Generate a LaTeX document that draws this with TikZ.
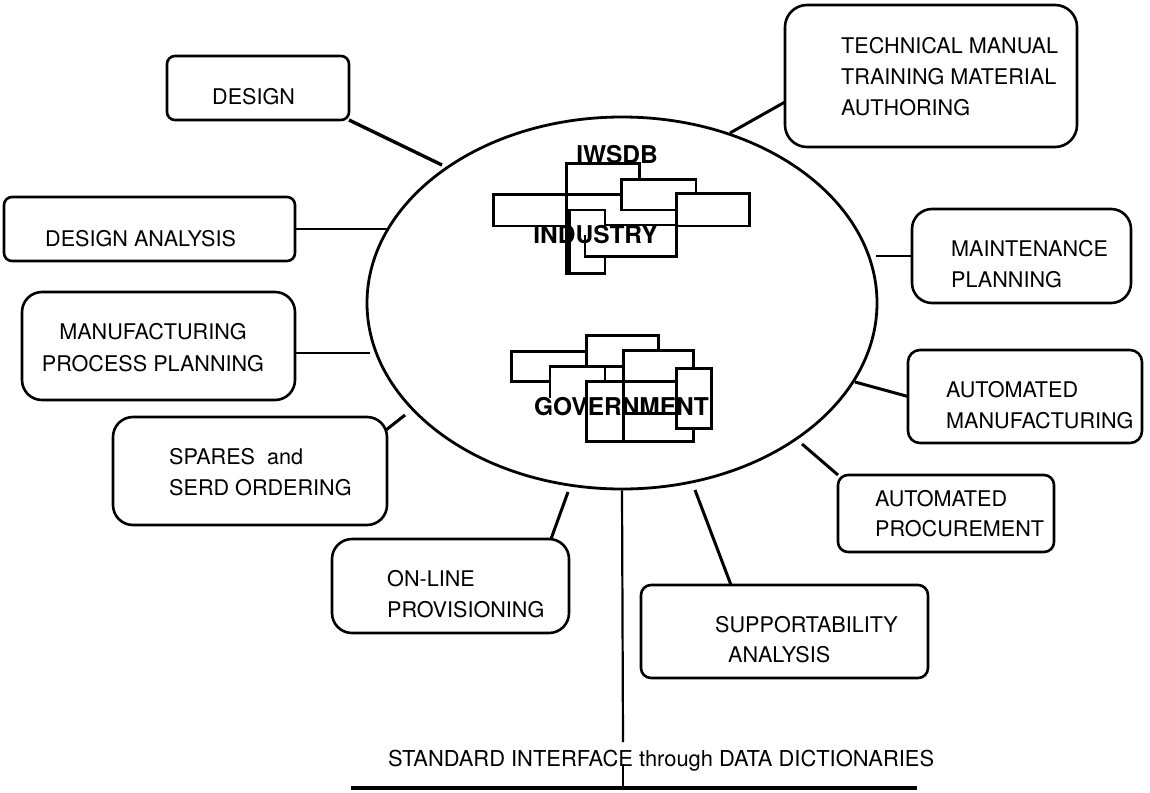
\documentclass[tikz,border=0pt]{standalone}
\usepackage{fontspec}
\setmainfont{TeX Gyre Heros}
\usetikzlibrary{shapes.geometric,calc}
\begin{document}
\begin{tikzpicture}[x=1pt,y=-1pt,
  box/.style={draw, line width=2.6pt, inner sep=0pt, outer sep=0pt},
  lbl/.style={font=\fontsize{21.6}{25}\selectfont, inner sep=0pt, anchor=base west},
  clbl/.style={font=\fontsize{21.6}{25}\selectfont, inner sep=0pt, anchor=base},
  big/.style={font=\bfseries\fontsize{24.5}{28}\selectfont, inner sep=0pt, anchor=base},
  conn/.style={line width=3pt},
  frame/.style={line width=2.6pt, line cap=rect}]
\useasboundingbox (0,0) rectangle (1150,792);

% central ellipse
\node[ellipse, draw, line width=2.8pt, minimum width=510pt, minimum height=372pt, inner sep=0pt] (E) at (622,303) {};

% boxes
\node[box, rounded corners=8pt,  minimum width=182pt, minimum height=64pt]  (design) at (258,88) {};
\node[box, rounded corners=8pt,  minimum width=291pt, minimum height=64pt]  (dan)    at (149.5,229) {};
\node[box, rounded corners=20pt, minimum width=273pt, minimum height=108pt] (mpp)    at (158.5,346) {};
\node[box, rounded corners=20pt, minimum width=274pt, minimum height=108pt] (spares) at (250,471) {};
\node[box, rounded corners=20pt, minimum width=237pt, minimum height=94pt]  (online) at (450.5,586) {};
\node[box, rounded corners=22pt, minimum width=292pt, minimum height=142pt] (tm)     at (931,76) {};
\node[box, rounded corners=20pt, minimum width=219pt, minimum height=94pt]  (mp)     at (1021.5,256) {};
\node[box, rounded corners=12pt, minimum width=234pt, minimum height=93pt]  (am)     at (1025,396.5) {};
\node[box, rounded corners=10pt, minimum width=216pt, minimum height=77pt]  (ap)     at (946,513.5) {};
\node[box, rounded corners=10pt, minimum width=287pt, minimum height=93pt]  (sa)     at (784.5,631.5) {};

% box texts
\node[lbl] (designT) at (212,104.5) {DESIGN};
\node[lbl] (danT) at (45,246.5) {DESIGN ANALYSIS};
\node[clbl] (mppT1) at (153,339.5) {MANUFACTURING};
\node[clbl] (mppT2) at (153,371.5) {PROCESS PLANNING};
\node[lbl] (spT1) at (169,464.5) {SPARES\ \ and};
\node[lbl] (spT2) at (169,495.5) {SERD ORDERING};
\node[lbl] (olT1) at (387,586.5) {ON-LINE};
\node[lbl] (olT2) at (387,617.5) {PROVISIONING};
\node[lbl] (tmT1) at (841,53.5) {TECHNICAL MANUAL};
\node[lbl] (tmT2) at (841,84.5) {TRAINING MATERIAL};
\node[lbl] (tmT3) at (841,115.5) {AUTHORING};
\node[lbl] (mpT1) at (951,256.5) {MAINTENANCE};
\node[lbl] (mpT2) at (951,287.5) {PLANNING};
\node[lbl] (amT1) at (946,397.5) {AUTOMATED};
\node[lbl] (amT2) at (946,428.5) {MANUFACTURING};
\node[lbl] (apT1) at (875,506.5) {AUTOMATED};
\node[lbl] (apT2) at (875,536.5) {PROCUREMENT};
\node[lbl] (saT1) at (715,632.5) {SUPPORTABILITY};
\node[lbl] (saT2) at (728,662.5) {ANALYSIS};
\node[lbl, font=\fontsize{21.9}{25}\selectfont] (std) at (388,766.5) {STANDARD INTERFACE through DATA DICTIONARIES};

% connectors
\coordinate (e1) at (442,165);
\draw[conn, line width=3.4pt] (design.south east) -- (e1);
\coordinate (e2) at (387,229);
\draw[conn, line width=2.4pt] (dan.east) -- (e2);
\coordinate (e3) at (370,353);
\draw[conn, line width=2.4pt] (e3 -| mpp.east) -- (e3);
\coordinate (e4) at (405,415);
\draw[conn] ($(spares.north east)+(-1,13)$) -- (e4);
\coordinate (e5) at (568,492);
\draw[conn] ($(online.north east)+(-18,0)$) -- (e5);
\coordinate (e6) at (730,133);
\draw[conn] ($(tm.west)+(0,26)$) -- (e6);
\coordinate (e7) at (876,256);
\draw[conn, line width=2.4pt] (mp.west) -- (e7);
\coordinate (e8) at (855,382);
\draw[conn] (am.west) -- (e8);
\coordinate (e9) at (802,444);
\draw[conn] (ap.north west) -- (e9);
\coordinate (e10) at (695,490);
\draw[conn] ($(sa.north west)+(90,0)$) -- (e10);
\coordinate (e11) at (623,742);
\draw[line width=2.2pt] (E.south) -- (e11);

% bottom interface line
\coordinate (bl) at (351,788);
\coordinate (br) at (917,788);
\draw[line width=3.2pt] (bl) -- (br);
\coordinate (st) at (623,764);
\draw[line width=2.2pt] (st) -- (st |- bl);

% INDUSTRY block
\draw[frame] (566.7,163.3) -- (639.3,163.3) -- (639.3,179.3);
\draw[frame] (566.7,163.3) -- (566.7,273.3);
\draw[frame] (621.7,210) -- (621.7,179.3) -- (696,179.3) -- (696,193.3);
\draw[frame] (621.7,210) -- (676.7,210);
\draw[frame] (621.7,194.3) -- (493.3,194.3) -- (493.3,226) -- (569.3,226);
\draw[frame] (605,225) -- (676.7,225);
\draw[frame] (676.7,256.7) -- (676.7,193.3) -- (749.3,193.3) -- (749.3,226) -- (676.7,226);
\draw[frame] (569.3,273.3) -- (569.3,210) -- (605,210) -- (605,225);
\draw[frame] (605,258.3) -- (605,273.3) -- (566.7,273.3);
\draw[frame] (585,236.7) -- (585,256.7) -- (676.7,256.7);

% GOVERNMENT block
\draw[frame] (550,381.7) -- (511.7,381.7) -- (511.7,351.7) -- (586.7,351.7);
\draw[frame] (586.7,366.7) -- (586.7,335.7) -- (658.3,335.7) -- (658.3,350.7);
\draw[frame] (550,397) -- (550,366.7) -- (623.3,366.7);
\draw[frame] (605,366.7) -- (605,381.7);
\draw[frame] (623.3,441.7) -- (623.3,350.7) -- (693.3,350.7) -- (693.3,368.3);
\draw[frame] (676.7,368.3) rectangle (711.7,428.3);
\draw[frame] (676.7,381.7) -- (586.7,381.7) -- (586.7,441.7) -- (693.3,441.7) -- (693.3,428.3);
\draw[frame] (623.3,413.3) -- (676.7,413.3);

% central labels
\node[big] (iwsdb) at (617,163) {IWSDB};
\node[big] (industry) at (595.5,243) {INDUSTRY};
\node[big] (gov) at (621.5,415) {GOVERNMENT};
\end{tikzpicture}
\end{document}
